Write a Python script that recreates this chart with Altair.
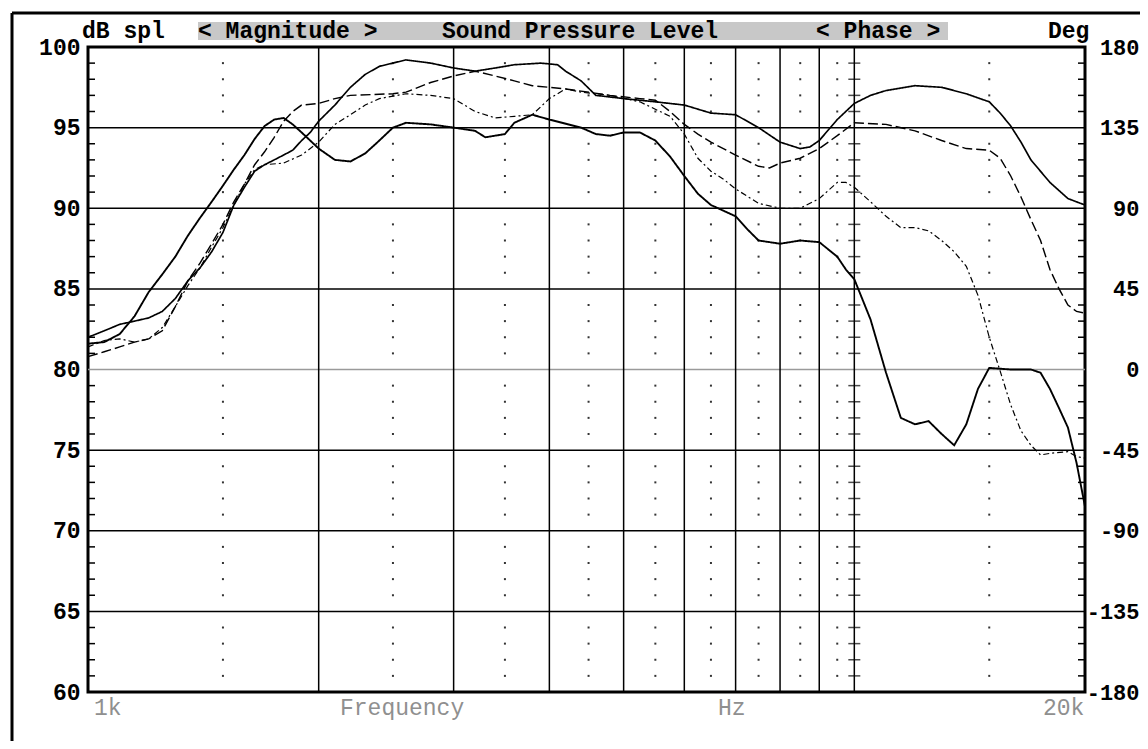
import altair as alt
import pandas as pd

# ---------------- data ----------------
# solid, heavier trace
freq_thick = [1000, 1050, 1100, 1150, 1200, 1250, 1300, 1350, 1400, 1450, 1500, 1550, 1600, 1650,
              1700, 1750, 1800, 1850, 1900, 2000, 2100, 2200, 2300, 2400, 2500, 2600, 2800, 3000,
              3200, 3300, 3500, 3600, 3800, 4000, 4400, 4600, 4800, 5000, 5250, 5500, 5750, 6000,
              6250, 6500, 7000, 7250, 7500, 8000, 8500, 9000, 9500, 9750, 10000, 10500, 11000,
              11500, 12000, 12500, 13000, 13500, 14000, 14500, 15000, 16000, 17000, 17500, 18000,
              18500, 19000, 19500, 20000]
db_thick = [81.6, 81.7, 82.2, 83.3, 84.8, 85.9, 87.0, 88.3, 89.4, 90.4, 91.4, 92.4, 93.3, 94.3,
            95.1, 95.5, 95.6, 95.2, 94.7, 93.7, 93.0, 92.9, 93.4, 94.2, 95.0, 95.3, 95.2, 95.0,
            94.8, 94.4, 94.6, 95.3, 95.8, 95.5, 95.0, 94.6, 94.5, 94.7, 94.7, 94.2, 93.2, 92.0,
            90.9, 90.2, 89.5, 88.7, 88.0, 87.8, 88.0, 87.9, 87.0, 86.2, 85.6, 83.1, 79.8,
            77.0, 76.6, 76.8, 76.0, 75.3, 76.6, 78.8, 80.1, 80.0, 80.0, 79.8, 78.8,
            77.6, 76.4, 74.2, 71.5]

# solid, thin trace (top)
freq_thin = [1000, 1050, 1100, 1150, 1200, 1250, 1300, 1350, 1400, 1450, 1500, 1550, 1600, 1650,
             1700, 1750, 1800, 1850, 1900, 1950, 2000, 2100, 2200, 2300, 2400, 2600, 2800, 3000,
             3200, 3400, 3600, 3900, 4100, 4200, 4400, 4600, 4800, 5000, 5500, 6000, 6500, 7000,
             7500, 8000, 8500, 8750, 9000, 9500, 10000, 10500, 11000, 12000, 13000, 14000, 15000,
             15500, 16000, 16500, 17000, 18000, 19000, 20000]
db_thin = [82.0, 82.4, 82.8, 83.0, 83.2, 83.6, 84.4, 85.5, 86.3, 87.3, 88.5, 90.2, 91.3, 92.3,
           92.7, 93.0, 93.3, 93.6, 94.2, 94.7, 95.4, 96.4, 97.5, 98.3, 98.8, 99.2, 99.0, 98.7,
           98.5, 98.7, 98.9, 99.0, 98.9, 98.5, 97.9, 97.0, 96.9, 96.8, 96.6, 96.4, 95.9, 95.8,
           95.0, 94.1, 93.7, 93.8, 94.2, 95.5, 96.5, 97.0, 97.3, 97.6, 97.5, 97.1, 96.6,
           95.9, 95.1, 94.1, 93.0, 91.6, 90.6, 90.2]

# long-dash trace
freq_dash = [1000, 1050, 1100, 1150, 1200, 1250, 1300, 1350, 1400, 1450, 1500, 1550, 1600, 1650,
             1700, 1750, 1800, 1850, 1900, 2000, 2100, 2200, 2500, 2600, 2800, 3000, 3200, 3400,
             3600, 3800, 4200, 4800, 5250, 5500, 5750, 6000, 6250, 6500, 7000, 7500, 7750, 8000,
             8500, 9000, 9500, 10000, 11000, 12000, 13000, 14000, 15000, 15500, 16000, 16500,
             17000, 17500, 18000, 18500, 19000, 19500, 20000]
db_dash = [80.8, 81.1, 81.4, 81.7, 81.9, 82.4, 83.9, 85.5, 86.6, 87.8, 89.0, 90.4, 91.5, 92.7,
           93.5, 94.4, 95.4, 96.0, 96.4, 96.5, 96.8, 97.0, 97.1, 97.2, 97.8, 98.2, 98.5, 98.2,
           97.9, 97.6, 97.4, 97.0, 96.8, 96.7, 96.0, 95.2, 94.6, 94.1, 93.3, 92.6, 92.5, 92.8,
           93.1, 93.7, 94.5, 95.3, 95.2, 94.8, 94.2, 93.7, 93.6, 93.1, 92.0, 90.7,
           89.3, 88.0, 86.2, 85.0, 84.0, 83.6, 83.5]

# dash-dot trace
freq_dashdot = [1000, 1050, 1100, 1150, 1200, 1250, 1300, 1350, 1400, 1450, 1500, 1550, 1600, 1650,
                1700, 1800, 1900, 2000, 2100, 2200, 2300, 2400, 2600, 2800, 3000, 3200, 3400, 3600,
                3800, 4000, 4200, 4400, 4800, 5250, 5750, 6000, 6250, 6500, 6750, 7000, 7500, 8000,
                8500, 9000, 9500, 9750, 10000, 10500, 11000, 11500, 12000, 12500, 13000, 13500,
                14000, 14500, 15000, 15500, 16000, 16500, 17000, 17500, 18000, 19000, 19500, 20000]
db_dashdot = [81.4, 81.8, 81.9, 81.7, 81.9, 82.6, 83.9, 85.2, 86.3, 87.6, 88.8, 90.2, 91.5, 92.4,
              92.7, 92.8, 93.3, 94.1, 95.2, 95.8, 96.4, 96.8, 97.1, 97.0, 96.8, 96.0, 95.6, 95.7,
              95.8, 96.8, 97.4, 97.2, 97.0, 96.6, 95.7, 94.6, 93.1, 92.3, 91.8, 91.2, 90.3, 90.0,
              90.0, 90.6, 91.6, 91.6, 91.3, 90.4, 89.5, 88.8, 88.8, 88.6, 88.0, 87.3,
              86.4, 84.6, 82.0, 79.9, 77.8, 76.2, 75.3, 74.7, 74.8, 74.9, 74.6, 74.5]

series_names = ["thick", "thin", "dash", "dashdot"]

# axes / grid values
db_labels = [60, 65, 70, 75, 80, 85, 90, 95, 100]
db_major_lines = [65, 70, 75, 80, 85, 90, 95]
db_minor = [v for v in range(61, 100) if v % 5 != 0]
deg_labels = [-180, -135, -90, -45, 0, 45, 90, 135, 180]
deg_minor = [v for v in range(-171, 180, 9) if v % 45 != 0]
freq_major_lines = [2000, 3000, 4000, 5000, 6000, 7000, 8000, 9000, 10000]
freq_dotted_lines = [1500, 2500, 3500, 4500, 5500, 6500, 7500, 8500, 9500, 15000]
freq_cross_line = [10000]

# ---------------- tables ----------------
curve_df = pd.concat([
    pd.DataFrame({"f": freq_thick, "db": db_thick, "s": "thick"}),
    pd.DataFrame({"f": freq_thin, "db": db_thin, "s": "thin"}),
    pd.DataFrame({"f": freq_dash, "db": db_dash, "s": "dash"}),
    pd.DataFrame({"f": freq_dashdot, "db": db_dashdot, "s": "dashdot"}),
], ignore_index=True)
dots_df = pd.DataFrame([{"f": f, "db": d} for f in freq_dotted_lines for d in db_minor])
cross_df = pd.DataFrame([{"f": f, "db": d} for f in freq_cross_line for d in db_minor])
one = pd.DataFrame({"k": [0]})

# ---------------- layout ----------------
W, H = 997, 645
FONT = "Liberation Mono"
BLACK = "#000000"

xscale = alt.Scale(type="log", domain=[1000, 20000], nice=False)
yscale = alt.Scale(domain=[60, 100], nice=False, zero=False)
pscale = alt.Scale(domain=[-180, 180], nice=False, zero=False)

yaxis = alt.Axis(values=db_labels, title=None, ticks=False, tickSize=0, domain=False, grid=False,
                 labelFont=FONT, labelFontWeight="bold", labelFontSize=23, labelColor=BLACK,
                 labelPadding=8, labelAlign="right", labelBaseline="middle", labelFlush=False,
                 labelOverlap=False)


def X():
    return alt.X("f:Q", scale=xscale, axis=None)


def Y():
    return alt.Y("db:Q", scale=yscale, axis=yaxis)


dots = alt.Chart(dots_df).mark_square(size=4, color="#333333", opacity=1).encode(x=X(), y=Y())

hlines = alt.Chart(pd.DataFrame({"db": db_major_lines})).mark_rule(strokeWidth=1.5).encode(
    y=Y(),
    color=alt.condition("datum.db == 80", alt.value("#9a9a9a"), alt.value(BLACK)),
)

vlines = alt.Chart(pd.DataFrame({"f": freq_major_lines})).mark_rule(
    strokeWidth=1.5, color=BLACK).encode(x=X())

left_ticks = alt.Chart(pd.DataFrame({"db": db_minor})).mark_rule(
    strokeWidth=1.5, color=BLACK).encode(x=alt.value(0), x2=alt.value(7), y=Y())

cross_ticks = alt.Chart(cross_df).mark_tick(
    orient="horizontal", size=12, thickness=1.5, color=BLACK).encode(x=X(), y=Y())

curves = alt.Chart(curve_df).mark_line(color=BLACK, interpolate="linear").encode(
    x=X(),
    y=Y(),
    detail="s:N",
    strokeDash=alt.StrokeDash("s:N", scale=alt.Scale(
        domain=series_names, range=[[1, 0], [1, 0], [10, 4], [6, 3, 2, 3]]), legend=None),
    strokeWidth=alt.StrokeWidth("s:N", scale=alt.Scale(
        domain=series_names, range=[1.9, 1.2, 1.6, 1.2]), legend=None),
)

db_layer = alt.layer(dots, hlines, vlines, left_ticks, cross_ticks, curves)

phase_layer = alt.Chart(pd.DataFrame({"deg": deg_minor})).mark_rule(
    strokeWidth=1.5, color=BLACK).encode(
    x=alt.value(W - 7), x2=alt.value(W),
    y=alt.Y("deg:Q", scale=pscale, axis=alt.Axis(
        orient="right", values=deg_labels, title=None, ticks=False, tickSize=0, domain=False,
        grid=False, labelFont=FONT, labelFontWeight="bold", labelFontSize=22, labelColor=BLACK,
        labelPadding=54, labelAlign="right", labelBaseline="middle", labelFlush=False,
        labelOverlap=False, labelExpr="'' + datum.value")),
)


def txt(s, x, y, bold=True, color=BLACK, align="left"):
    return alt.Chart(one).mark_text(
        align=align, baseline="middle", font=FONT, fontSize=23,
        fontWeight="bold" if bold else "normal", color=color,
    ).encode(x=alt.value(x), y=alt.value(y), text=alt.value(s))


header_bar = alt.Chart(one).mark_rect(color="#c8c8c8").encode(
    x=alt.value(110), x2=alt.value(860), y=alt.value(-25), y2=alt.value(-7))

frame_top = alt.Chart(one).mark_rule(color=BLACK, strokeWidth=3).encode(
    x=alt.value(-76), x2=alt.value(1060), y=alt.value(-34))
frame_left = alt.Chart(one).mark_rule(color=BLACK, strokeWidth=3).encode(
    x=alt.value(-76), y=alt.value(-34), y2=alt.value(700))

GRAY = "#8f8f8f"
deco = [
    frame_top, frame_left, header_bar,
    txt("dB spl", -6, -16),
    txt("< Magnitude >", 110, -16),
    txt("Sound Pressure Level", 354, -16),
    txt("< Phase >", 728, -16),
    txt("Deg", 960, -16),
    txt("1k", 6, 661, bold=False, color=GRAY),
    txt("Frequency", 252, 661, bold=False, color=GRAY),
    txt("Hz", 630, 661, bold=False, color=GRAY),
    txt("20k", 955, 661, bold=False, color=GRAY),
]

chart = alt.layer(db_layer, phase_layer, *deco).resolve_scale(y="independent").properties(
    width=W,
    height=H,
    autosize=alt.AutoSizeParams(type="none"),
    padding={"left": 80, "top": 39, "right": 55, "bottom": 49},
    background="white",
).configure_view(stroke=BLACK, strokeWidth=3)

chart.save("out.html", embed_options={"renderer": "svg", "actions": False})
